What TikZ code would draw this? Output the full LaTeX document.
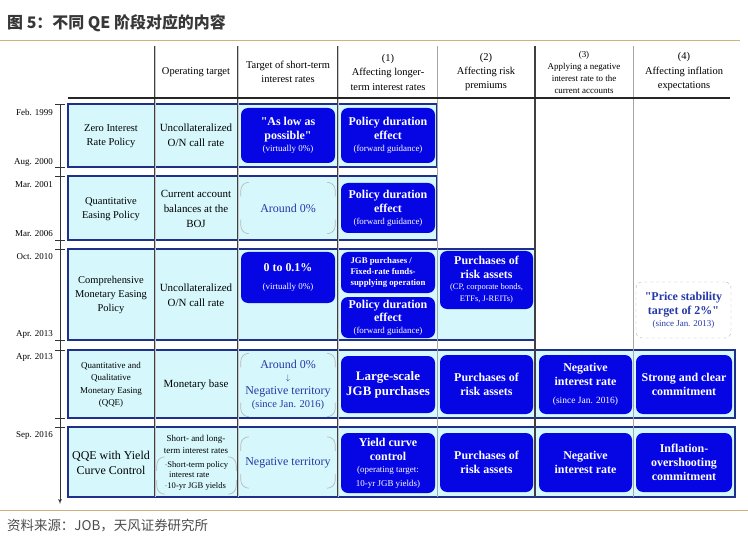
\documentclass[tikz,border=0pt]{standalone}
\usepackage{fontspec}
\setmainfont{Liberation Serif}
\newfontfamily\cjkfont{Noto Sans CJK SC}
\usepackage{tikz}
\usetikzlibrary{arrows,shapes}

\definecolor{boxblue}{RGB}{6,6,228}
\definecolor{bandfill}{RGB}{214,248,252}
\definecolor{bandline}{RGB}{30,48,140}
\definecolor{txtblue}{RGB}{36,56,168}
\definecolor{rulegold}{RGB}{205,178,125}
\definecolor{titlegray}{RGB}{55,55,55}

\newcommand{\fsz}[2]{\fontsize{#1}{#2}\selectfont}
\newcommand{\smalltxt}[1]{{\fsz{9}{11}\mdseries #1}}
\newcommand{\qq}{\textquotedbl}
% corner arcs of the light bracket boxes
\newcommand{\cornerarcs}[1]{%
  \draw[bracketline] ([xshift=8bp]#1.north west) -- (#1.north west) -- ([yshift=-14bp]#1.north west);
  \draw[bracketline] ([xshift=8bp]#1.south west) -- (#1.south west) -- ([yshift=14bp]#1.south west);
  \draw[bracketline] ([xshift=-8bp]#1.north east) -- (#1.north east) -- ([yshift=-14bp]#1.north east);
  \draw[bracketline] ([xshift=-8bp]#1.south east) -- (#1.south east) -- ([yshift=14bp]#1.south east);}

\begin{document}
\begin{tikzpicture}[>=latex',x=1bp,y=-1bp]
\tikzstyle{band}=[draw=bandline,line width=1.2bp,fill=bandfill,inner sep=0pt]
\tikzstyle{bluebox}=[fill=boxblue,text=white,rounded corners=7bp,align=center,inner sep=1bp,minimum width=94bp,font=\bfseries\fsz{12}{14}]
\tikzstyle{cell}=[align=center,inner sep=0pt,font=\fsz{10.5}{14.5}]
\tikzstyle{head}=[align=center,inner sep=0pt,font=\fsz{10.5}{14.5}]
\tikzstyle{bracketbox}=[align=center,inner sep=0pt,text=txtblue,font=\fsz{12}{14}]
\tikzstyle{bracketline}=[draw=gray!55,line width=0.7bp,rounded corners=8bp]
\tikzstyle{date}=[anchor=east,inner sep=0pt,font=\fsz{9}{10}]
\tikzstyle{dblline}=[draw=black!75,double=gray!45,double distance=1bp,line width=0.7bp]
\useasboundingbox (0,0) rectangle (748,541);

  % title and rules
  \node (title) at (7,23) [anchor=west,inner sep=0pt,text=titlegray,font=\cjkfont\bfseries\fsz{16}{18}] {图 5：不同 QE 阶段对应的内容};
  \draw [rulegold,line width=0.8bp] (0,40) -- (740,40);
  \draw [rulegold,line width=0.8bp] (0,510) -- (748,510);
  \node (source) at (7,526) [anchor=west,inner sep=0pt,text=black!70,font=\cjkfont\fsz{13.5}{16}] {资料来源：JOB，天风证券研究所};

  % bands
  \node (zirp) at (252.5,135.5) [band,minimum width=369bp,minimum height=63bp] {};
  \node (qep) at (252.5,208) [band,minimum width=369bp,minimum height=64bp] {};
  \node (cme) at (301.5,294.5) [band,minimum width=467bp,minimum height=91bp] {};
  \node (qqe) at (401.5,384) [band,minimum width=667bp,minimum height=68bp] {};
  \node (ycc) at (401.5,462) [band,minimum width=667bp,minimum height=70bp] {};

  % table lines
  \foreach \x in {155,238,338} \draw [dblline] (\x,46) -- (\x,497);
  \draw [gray!70,line width=0.8bp] (437,46) -- (437,497);
  \draw [black!75,line width=1.1bp] (535,46) -- (535,497);
  \draw [gray!70,line width=0.8bp] (633,46) -- (633,497);
  \draw [black!85,line width=1.4bp] (68,98) -- (730,98);

  % header
  \node (hop) at (196,72) [head] {Operating target};
  \node (hst) at (288,72) [head] {Target of short-term\\interest rates};
  \node (h1) at (388,72) [head] {(1)\\Affecting longer-\\term interest rates};
  \node (h2) at (486,72) [head] {(2)\\Affecting risk\\premiums};
  \node (h3) at (584,72.5) [head,font=\fsz{9}{12.3}] {(3)\\Applying a negative\\interest rate to the\\current accounts};
  \node (h4) at (684,71.5) [head] {(4)\\Affecting inflation\\expectations};

  % timeline
  \coordinate (t0) at (60,104);
  \coordinate (t1) at (60,504);
  \draw [->,black!80,line width=0.7bp] (t0) -- (t1);
  \foreach \y in {104,167,176,240,249,340,350,418,427} \draw [black!80,line width=0.8bp] (55,\y) -- (65,\y);
  \node (d1) at (53,112) [date] {Feb. 1999};
  \node (d2) at (53,162) [date] {Aug. 2000};
  \node (d3) at (53,185) [date] {Mar. 2001};
  \node (d4) at (53,234) [date] {Mar. 2006};
  \node (d5) at (53,257) [date] {Oct. 2010};
  \node (d6) at (53,334) [date] {Apr. 2013};
  \node (d7) at (53,357) [date] {Apr. 2013};
  \node (d8) at (53,435) [date] {Sep. 2016};

  % row 1
  \node (zirpname) at (111,136) [cell] {Zero Interest\\Rate Policy};
  \node (zirpop) at (196,135) [cell,font=\fsz{11}{15}] {Uncollateralized\\O/N call rate};
  \node (zirpst) at (288,135.5) [bluebox,minimum height=55bp] {\qq As low as\\possible\qq\\[-2bp]\smalltxt{(virtually 0\%)}};
  \node (zirpl) at (388,135.5) [bluebox,minimum height=55bp] {Policy duration\\effect\\[-2bp]\smalltxt{(forward guidance)}};

  % row 2
  \node (qepname) at (111,209) [cell] {Quantitative\\Easing Policy};
  \node (qepop) at (196,209) [cell,font=\fsz{11}{15}] {Current account\\balances at the\\BOJ};
  \node (qepst) at (288,208) [bracketbox,minimum width=94bp,minimum height=51bp] {Around 0\%};
  \cornerarcs{qepst}
  \node (qepl) at (388,208) [bluebox,minimum height=50bp] {Policy duration\\effect\\[-2bp]\smalltxt{(forward guidance)}};

  % row 3
  \node (cmename) at (111,295) [cell] {Comprehensive\\Monetary Easing\\Policy};
  \node (cmeop) at (196,295) [cell,font=\fsz{11}{15.5}] {Uncollateralized\\O/N call rate};
  \node (cmest) at (288,277.5) [bluebox,minimum height=51bp] {0 to 0.1\%\\[5bp]\smalltxt{(virtually 0\%)}};
  \node (cmejgb) at (388,272.5) [bluebox,minimum height=41bp,align=left,font=\bfseries\fsz{8.8}{11}] {JGB purchases /\\Fixed-rate funds-\\supplying operation};
  \node (cmepde) at (388,317.5) [bluebox,minimum height=41bp,font=\bfseries\fsz{12}{13}] {Policy duration\\effect\\[-1bp]\smalltxt{(forward guidance)}};
  \node (cmerisk) at (486.5,280) [bluebox,minimum width=93bp,minimum height=58bp,font=\bfseries\fsz{12}{14}] {Purchases of\\risk assets\\[-3bp]{\fsz{8.5}{10}\mdseries (CP, corporate bonds,}\\[-2bp]{\fsz{8.5}{10}\mdseries ETFs, J-REITs)}};
  \node (cmeinf) at (683.5,310) [draw=gray!60,dashed,rounded corners=6bp,fill=white,text=txtblue,align=center,inner sep=1bp,minimum width=95bp,minimum height=56bp,font=\bfseries\fsz{12}{14}] {\qq Price stability\\target of 2\%\qq\\[-2bp]\smalltxt{(since Jan. 2013)}};

  % row 4
  \node (qqename) at (111,385) [cell,font=\fsz{9}{12.5}] {Quantitative and\\Qualitative\\Monetary Easing\\(QQE)};
  \node (qqeop) at (196,385) [cell,font=\fsz{11}{14}] {Monetary base};
  \node (qqest) at (288,385) [bracketbox,minimum width=94bp,minimum height=63bp,font=\fsz{12}{13}] {Around 0\%\\[-1bp]{\fsz{8}{9}$\downarrow$}\\[1bp]Negative territory\\{\fsz{10.5}{12}(since Jan. 2016)}};
  \cornerarcs{qqest}
  \node (qqel) at (388,384.5) [bluebox,minimum height=57bp,font=\bfseries\fsz{13}{15}] {Large-scale\\JGB purchases};
  \node (qqerisk) at (486.5,384.5) [bluebox,minimum width=93bp,minimum height=59bp] {Purchases of\\risk assets};
  \node (qqeneg) at (585.5,384.5) [bluebox,minimum width=93bp,minimum height=59bp] {Negative\\interest rate\\[4bp]{\fsz{9.5}{11}\mdseries (since Jan. 2016)}};
  \node (qqeinf) at (684,384.5) [bluebox,minimum width=96bp,minimum height=59bp] {Strong and clear\\commitment};

  % row 5
  \node (yccname) at (111,462.5) [cell,font=\fsz{12}{15}] {QQE with Yield\\Curve Control};
  \node (yccop) at (196,444.5) [cell,font=\fsz{9}{11.5}] {Short- and long-\\term interest rates};
  \node (yccopb) at (196.5,475.5) [inner sep=0pt,align=left,minimum width=79bp,minimum height=37bp,font=\fsz{8.6}{10.5}] {$\cdot$Short-term policy\\\ \ interest rate\\$\cdot$10-yr JGB yields};
  \cornerarcs{yccopb}
  \node (yccst) at (288,462.5) [bracketbox,minimum width=94bp,minimum height=51bp] {Negative territory};
  \cornerarcs{yccst}
  \node (yccl) at (388,463) [bluebox,minimum height=60bp] {Yield curve\\control\\[-2bp]{\fsz{9}{11}\mdseries (operating target:}\\{\fsz{9}{11}\mdseries 10-yr JGB yields)}};
  \node (yccrisk) at (486.5,462.5) [bluebox,minimum width=93bp,minimum height=59bp] {Purchases of\\risk assets};
  \node (yccneg) at (585.5,462.5) [bluebox,minimum width=93bp,minimum height=59bp] {Negative\\interest rate};
  \node (yccinf) at (684,462.5) [bluebox,minimum width=96bp,minimum height=59bp] {Inflation-\\overshooting\\commitment};

\end{tikzpicture}
\end{document}
